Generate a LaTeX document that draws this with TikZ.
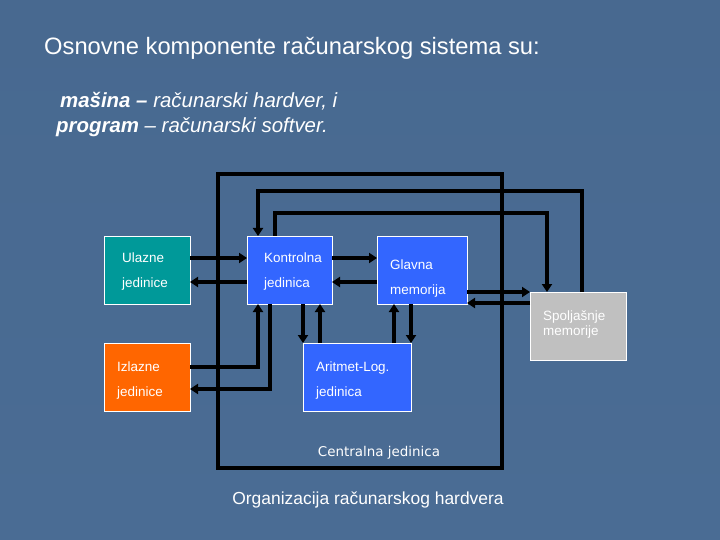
\documentclass[tikz,border=0pt]{standalone}
\usepackage{fontspec}
\setmainfont{Liberation Sans}
\newfontfamily\dejavu{DejaVu Sans}
\usetikzlibrary{arrows.meta}
\definecolor{bgblue}{RGB}{74,108,148}
\definecolor{bgtop}{RGB}{72,105,144}
\definecolor{tealbox}{RGB}{0,153,153}
\definecolor{bluebox}{RGB}{51,102,255}
\definecolor{orangebox}{RGB}{255,102,0}
\definecolor{graybox}{RGB}{192,192,192}
\tikzset{
  unitbox/.style={draw=white, line width=0.8bp, inner sep=0pt},
  boxtext/.style={text=white, anchor=west, inner sep=0pt, font=\fontsize{13.5}{25}\selectfont, align=left},
  conn/.style={line width=3.5bp, line cap=butt, line join=miter},
  arr/.style={conn, -{Triangle[width=10bp,length=8bp]}},
}
\begin{document}
\begin{tikzpicture}[x=1bp,y=-1bp]
\useasboundingbox (0,0) rectangle (720,540);
\shade[top color=bgtop, bottom color=bgblue] (0,0) rectangle (720,540);

% titles
\node[anchor=base west, text=white, inner sep=0pt, font=\fontsize{23.8}{26}\selectfont] (title) at (44,55) {Osnovne komponente računarskog sistema su:};
\node[anchor=base west, text=white, inner sep=0pt, font=\fontsize{20.5}{22}\selectfont\itshape] (sub1) at (60,108) {\textbf{mašina –} računarski hardver, i};
\node[anchor=base west, text=white, inner sep=0pt, font=\fontsize{20.5}{22}\selectfont\itshape] (sub2) at (56,133) {\textbf{program} – računarski softver.};

% central unit frame
\draw[conn] (218,174) rectangle (502,468);
\node[text=white, inner sep=0pt, font=\dejavu\fontsize{13.5}{15}\selectfont] (cjlab) at (379,453) {Centralna jedinica};

% boxes
\path[unitbox, fill=tealbox] (104,236) rectangle (190,304);
\path[unitbox, fill=bluebox] (247,236) rectangle (332,304);
\path[unitbox, fill=bluebox] (377,236) rectangle (467,304);
\path[unitbox, fill=graybox] (530,292) rectangle (626,360);
\path[unitbox, fill=orangebox] (104,343) rectangle (190,411);
\path[unitbox, fill=bluebox] (303,343) rectangle (411,411);

% texts
\node[boxtext] (ult) at (122,271.5) {Ulazne\\jedinice};
\node[boxtext] (kot) at (264,271.5) {Kontrolna\\jedinica};
\node[boxtext] (gmt) at (390,278.5) {Glavna\\memorija};
\node[boxtext, font=\fontsize{13.5}{15}\selectfont] (spt) at (543,324.5) {Spoljašnje\\memorije};
\node[boxtext] (izt) at (117,380.5) {Izlazne\\jedinice};
\node[boxtext] (alt) at (316,380.5) {Aritmet-Log.\\jedinica};

% coordinates on box edges
\coordinate (ulE1) at (190,258); \coordinate (ulE2) at (190,282);
\coordinate (koW1) at (247,258); \coordinate (koW2) at (247,282);
\coordinate (koE1) at (332,258); \coordinate (koE2) at (332,282);
\coordinate (gmW1) at (377,258); \coordinate (gmW2) at (377,282);
\coordinate (gmE1) at (467,292); \coordinate (gmE2) at (467,303);
\coordinate (spW1) at (530,292); \coordinate (spW2) at (530,303);

% horizontal connections
\draw[arr] (ulE1) -- (koW1);
\draw[arr] (koW2) -- (ulE2);
\draw[arr] (koE1) -- (gmW1);
\draw[arr] (gmW2) -- (koE2);
\draw[arr] (gmE1) -- (spW1);
\draw[arr] (spW2) -- (gmE2);

% top loops
\draw[arr] (582,292) |- (258,191) -- (258,236);
\draw[arr] (275,236) |- (547,213) -- (547,292);

% Kontrolna <-> Izlazne
\draw[arr] (190,367) -| (258,304);
\draw[arr] (270,304) |- (190,389);

% Kontrolna <-> ALU
\draw[arr] (303,304) -- (303,343);
\draw[arr] (320,343) -- (320,304);
% Glavna <-> ALU
\draw[arr] (394,343) -- (394,304);
\draw[arr] (411,304) -- (411,343);

\node[text=white, inner sep=0pt, font=\fontsize{17.5}{20}\selectfont] (cap) at (368,500) {Organizacija računarskog hardvera};
\end{tikzpicture}
\end{document}
